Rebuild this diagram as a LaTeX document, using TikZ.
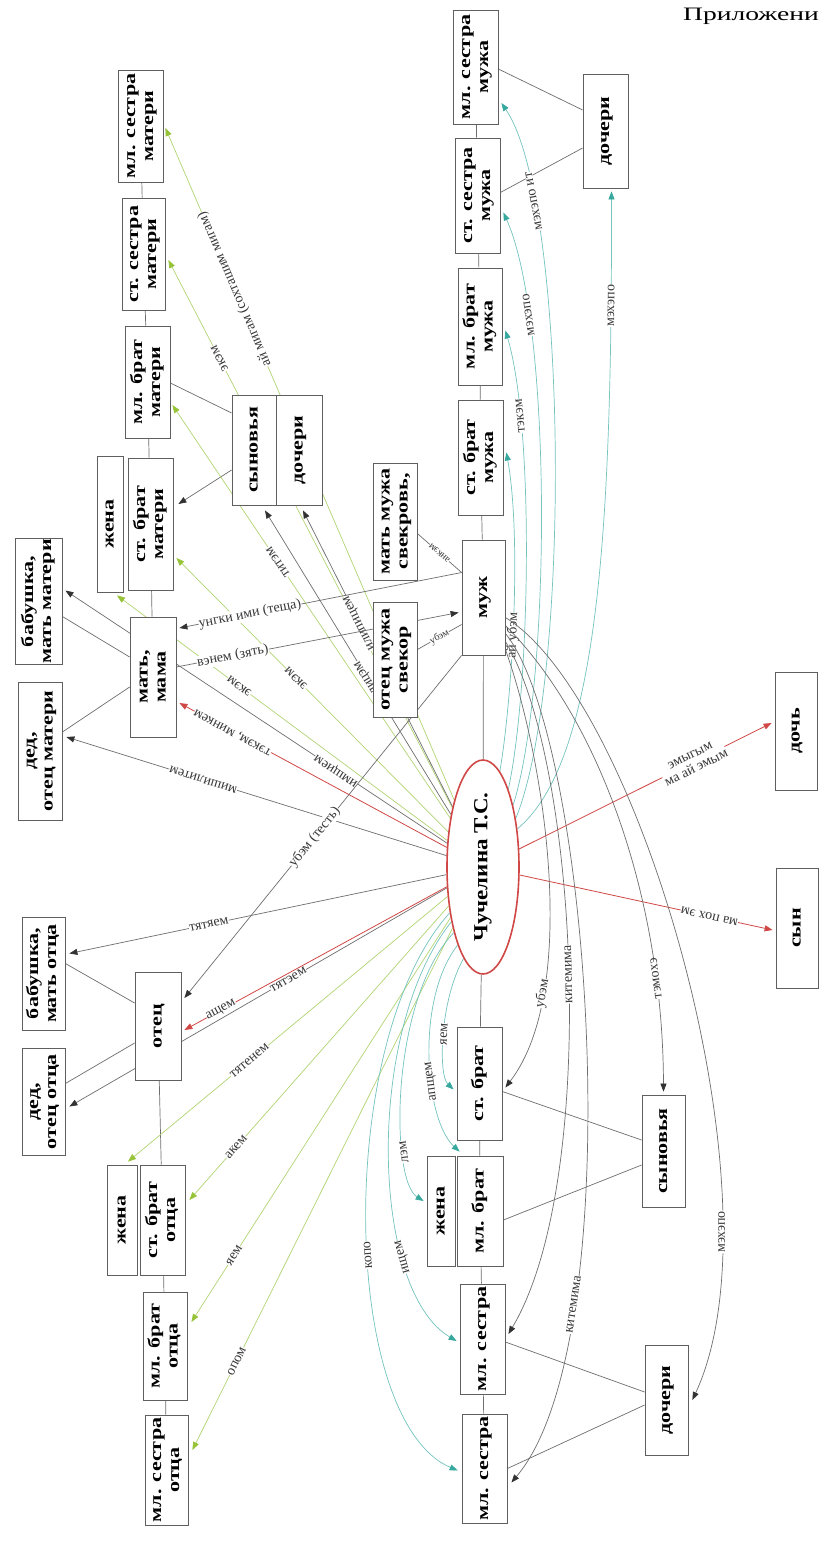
\documentclass[tikz,border=0pt]{standalone}
\usepackage{graphicx}
\usepackage{fontspec}
\setmainfont{Liberation Serif}
\usetikzlibrary{arrows.meta,shapes.geometric,backgrounds,calc}

\definecolor{kred}{RGB}{208,72,70}
\definecolor{kgreen}{RGB}{150,195,55}
\definecolor{kgreenl}{RGB}{178,212,115}
\definecolor{kcyan}{RGB}{55,168,158}
\definecolor{kcyanl}{RGB}{115,195,190}
\definecolor{kgrey}{RGB}{110,110,110}
\definecolor{kdark}{RGB}{50,50,50}
\definecolor{boxc}{RGB}{95,95,95}
\definecolor{labc}{RGB}{55,55,55}

\pgfdeclarelayer{bgfill}
\pgfdeclarelayer{edges}
\pgfsetlayers{bgfill,edges,main}

% rotated one- or two-line caption for a kinship box
\newcommand\rtext[1]{\rotatebox{90}{\scalebox{1.3}[1]{\begin{tabular}{@{}c@{}}#1\end{tabular}}}}
% box: name, centre x, centre y, width, height, caption
\newcommand\kbox[6]{\node[kinbox, minimum width=#4pt, minimum height=#5pt] (#1) at (#2,#3) {\rtext{#6}};}

\tikzset{
  kinbox/.style={draw=boxc, line width=0.8pt, fill=white, inner sep=0pt,
    font=\fontsize{17}{18}\selectfont\bfseries},
  tree/.style={draw=kgrey, line width=0.7pt},
  redarr/.style={draw=kred, line width=0.8pt, -{Triangle[length=8pt,width=6pt,color=kred]}},
  grnarr/.style={draw=kgreenl, line width=0.7pt, -{Triangle[length=8pt,width=6pt,color=kgreen]}},
  cyanarr/.style={draw=kcyanl, line width=0.7pt, -{Triangle[length=8pt,width=6pt,color=kcyan]}},
  blkarr/.style={draw=kgrey, line width=0.7pt, -{Triangle[length=8pt,width=6pt,color=kdark]}},
  lab/.style={font=\fontsize{14}{14}\selectfont, text=labc, fill=white, inner sep=0.3pt,
    sloped, allow upside down},
  labs/.style={lab, font=\fontsize{10}{10}\selectfont},
  upsd/.style={rotate=180},
}

\begin{document}
\begin{tikzpicture}[x=1pt,y=-1pt]
\useasboundingbox (0,0) rectangle (819,1567);
\begin{pgfonlayer}{bgfill}
  \fill[white] (0,0) rectangle (819,1567);
\end{pgfonlayer}

\node[anchor=north west, inner sep=0pt, font=\fontsize{19}{19}\selectfont] (app) at (683,8)
  {\scalebox{1.45}[1]{Приложение}};

% centre person
\node[ellipse, draw=kred, line width=1.6pt, fill=white, minimum width=72pt, minimum height=214pt, inner sep=0pt]
  (E) at (483,867) {\rotatebox{90}{\scalebox{1.15}[1]{\fontsize{20}{20}\selectfont\bfseries Чучелина Т.С.}}};

% mother's side
\kbox{msm}{140.5}{126}{45}{112}{мл. сестра\\матери}
\kbox{ssm}{143.5}{254}{43}{112}{ст. сестра\\матери}
\kbox{mbm}{147.5}{382}{45}{112}{мл. брат\\матери}
\kbox{sbm}{150.5}{524}{45}{132}{ст. брат\\матери}
\kbox{zhm}{110}{524}{26}{136}{жена}
\kbox{mat}{153}{677}{46}{120}{мать,\\мама}
\kbox{bmm}{38.5}{601.5}{47}{126}{бабушка,\\мать матери}
\kbox{dom}{40}{751}{44}{138}{дед,\\отец матери}
\kbox{sy}{254}{450}{44}{110}{сыновья}
\kbox{dmb}{299}{450}{46}{110}{дочери}

% husband's side
\kbox{svkw}{395}{521.5}{44}{117}{мать мужа\\свекровь,}
\kbox{svk}{395}{659.5}{44}{115}{отец мужа\\свекор}
\kbox{muzh}{483.5}{597.5}{43}{115}{муж}
\kbox{sbmu}{480.5}{457.5}{45}{115}{ст. брат\\мужа}
\kbox{mbmu}{480}{326.5}{44}{117}{мл. брат\\мужа}
\kbox{ssmu}{477.5}{195.5}{45}{115}{ст. сестра\\мужа}
\kbox{msmu}{475.5}{67}{45}{114}{мл. сестра\\мужа}
\kbox{dochm}{605.5}{131}{45}{114}{дочери}

% children
\kbox{doch}{796}{731}{42}{118}{дочь}
\kbox{syn}{797}{928}{42}{120}{сын}

% father's side
\kbox{bmo}{43.5}{973.5}{43}{113}{бабушка,\\мать отца}
\kbox{ot}{158}{1026}{46}{108}{отец}
\kbox{doo}{43.5}{1101.5}{43}{107}{дед,\\отец отца}
\kbox{zho}{122}{1220}{30}{110}{жена}
\kbox{sbo}{162.5}{1220}{45}{110}{ст. брат\\отца}
\kbox{mbo}{165}{1346}{44}{108}{мл. брат\\отца}
\kbox{mso}{166.5}{1470}{43}{110}{мл. сестра\\отца}

% own siblings
\kbox{sb}{479.5}{1083.5}{45}{113}{ст. брат}
\kbox{mb}{480}{1211}{46}{110}{мл. брат}
\kbox{zhb}{441}{1211}{28}{110}{жена}
\kbox{ms1}{482.5}{1339}{45}{110}{мл. сестра}
\kbox{ms2}{484.5}{1468.5}{45}{109}{мл. сестра}
\kbox{syns}{663.5}{1151}{43}{112}{сыновья}
\kbox{dochs}{666.5}{1400}{43}{110}{дочери}

\begin{pgfonlayer}{edges}
% family tree lines
\draw[tree] (msm) -- (ssm);
\draw[tree] (ssm) -- (mbm);
\draw[tree] (mbm) -- (sbm);
\draw[tree] (sbm) -- (mat);
\draw[tree] ($(mat.west)+(0,-20)$) -- ($(bmm.east)+(0,15)$);
\draw[tree] ($(mat.west)+(0,10)$) -- ($(dom.east)+(0,-19)$);
\draw[tree] ($(mbm.east)+(0,1)$) -- ($(sy.west)+(0,-37)$);
\draw[blkarr] ($(sy.west)+(0,20)$) -- ($(sbm.east)+(5,-20)$);
\draw[tree] ($(ot.west)+(0,-23)$) -- ($(bmo.east)+(0,-10)$);
\draw[tree] ($(ot.west)+(0,17)$) -- ($(doo.east)+(0,-18)$);
\draw[tree] (ot) -- (sbo);
\draw[tree] (sbo) -- (mbo);
\draw[tree] (mbo) -- (mso);
\draw[tree] (E) -- (sb);
\draw[tree] (sb) -- (mb);
\draw[tree] (mb) -- (ms1);
\draw[tree] (ms1) -- (ms2);
\draw[tree] ($(sb.east)+(0,8)$) -- ($(syns.west)+(0,-11)$);
\draw[tree] ($(mb.east)+(0,9)$) -- ($(syns.west)+(0,14)$);
\draw[tree] ($(ms1.east)+(0,3)$) -- ($(dochs.west)+(0,-8)$);
\draw[tree] (ms2.east) -- ($(dochs.west)+(0,5)$);
\draw[tree] (E) -- (muzh);
\draw[tree] (muzh) -- (sbmu);
\draw[tree] (sbmu) -- (mbmu);
\draw[tree] (mbmu) -- (ssmu);
\draw[tree] (ssmu) -- (msmu);
\draw[tree] ($(msmu.east)+(0,2)$) -- ($(dochm.west)+(0,-21)$);
\draw[tree] ($(ssmu.east)+(0,-3)$) -- ($(dochm.west)+(0,17)$);
\draw[tree] ($(svkw.east)+(0,12)$) -- ($(muzh.west)+(0,-25)$) node[labs,pos=0.5,upsd]{анкэм};
\draw[tree] ($(svk.east)+(0,-10)$) -- ($(muzh.west)+(0,27)$) node[labs,pos=0.5]{убэм};

% green: parents' siblings
\draw[grnarr] (E) -- ($(msm.east)+(2,2)$) node[lab,pos=0.76]{ай мигам (сохташим мигам)};
\draw[grnarr] (E) -- ($(ssm.east)+(3,6)$) node[lab,pos=0.82]{экэм};
\draw[grnarr] (E) -- ($(mbm.east)+(2,23)$) node[lab,pos=0.62]{титэм};
\draw[grnarr] (E) -- ($(sbm.east)+(3,34)$) node[lab,pos=0.56]{экэм};
\draw[grnarr] (E) -- ($(zhm.south)+(7,3)$) node[lab,pos=0.63]{экэм};
\draw[grnarr] (E) -- ($(zho.north)+(6,-3)$) node[lab,pos=0.62,upsd]{тятенем};
\draw[grnarr] (E) -- ($(sbo.east)+(4,-20)$) node[lab,pos=0.82,upsd]{акем};
\draw[grnarr] (E) -- ($(mbo.east)+(4,-24)$) node[lab,pos=0.835,upsd]{яем};
\draw[grnarr] (E) -- ($(mso.east)+(4,-20)$) node[lab,pos=0.83,upsd]{опом};

% dark: grandparents and cousins
\draw[blkarr] (E) -- ($(bmm.east)+(3,-11)$) node[lab,pos=0.29]{имщием};
\draw[blkarr] (E) -- ($(dom.east)+(4,-14)$) node[lab,pos=0.64]{мишилитем};
\draw[blkarr] (E) -- ($(bmo.east)+(4,-20)$) node[lab,pos=0.63,upsd]{тятяем};
\draw[blkarr] (E) -- ($(doo.east)+(4,5)$) node[lab,pos=0.42,upsd]{тятэем};
\draw[blkarr] (E) -- ($(sy.south)+(11,5)$) node[lab,pos=0.42]{инилицэм};
\draw[blkarr] (E) -- ($(dmb.south)+(4,5)$) node[lab,pos=0.62]{илипицем};

% red: parents and children
\draw[redarr] (E) -- ($(mat.east)+(3,26)$) node[lab,pos=0.8]{тэкэм, минкем};
\draw[redarr] (E) -- ($(ot.east)+(3,4)$) node[lab,pos=0.86,upsd]{ащем};
\draw[redarr] (E) -- ($(doch.west)+(-3,-8)$) node[lab,pos=0.69,align=center]{эмыгым\\ма ай эмым};
\draw[redarr] (E) -- ($(syn.west)+(-3,2)$) node[lab,pos=0.75,upsd]{ма пох эм};

% cyan: husband's siblings
\draw[cyanarr] (E.80) .. controls (512,700) and (522,540) .. ($(sbmu.east)+(3,-5)$) node[lab,pos=0.45]{ай убэм};
\draw[cyanarr] (E.72) .. controls (530,690) and (535,430) .. ($(mbmu.east)+(3,4)$) node[lab,pos=0.78]{тэкэм};
\draw[cyanarr] (E.64) .. controls (552,680) and (552,320) .. ($(ssmu.east)+(3,17)$) node[lab,pos=0.78]{мэхэпо};
\draw[cyanarr] (E.56) .. controls (572,680) and (568,200) .. ($(msmu.east)+(3,36)$) node[lab,pos=0.8]{мэхэпо ит};
\draw[cyanarr] (E.48) .. controls (600,760) and (612,520) .. ($(dochm.south)+(6,3)$) node[lab,pos=0.88]{мэхэпо};

% cyan: own siblings
\draw[cyanarr] (E.258) .. controls (440,1000) and (438,1075) .. ($(sb.west)+(-3,6)$) node[lab,pos=0.5,upsd]{яем};
\draw[cyanarr] (E.252) .. controls (415,1000) and (425,1120) .. ($(mb.north west)+(3,-4)$) node[lab,pos=0.6,upsd]{апщем};
\draw[cyanarr] (E.246) .. controls (390,1000) and (390,1180) .. ($(zhb.west)+(-3,-10)$) node[lab,pos=0.72,upsd]{лэм};
\draw[cyanarr] (E.240) .. controls (365,1030) and (370,1290) .. ($(ms1.west)+(-3,2)$) node[lab,pos=0.72,upsd]{ищем};
\draw[cyanarr] (E.234) .. controls (335,1040) and (340,1420) .. ($(ms2.west)+(-4,2)$) node[lab,pos=0.55,upsd]{копо};

% grey: husband's terms
\draw[blkarr] ($(muzh.west)+(0,-25)$) -- ($(mat.east)+(3,-49)$) node[lab,pos=0.75,upsd]{унгки ими (теща)};
\draw[blkarr] ($(mat.east)+(0,-10)$) -- ($(muzh.west)+(-3,15)$) node[lab,pos=0.2]{вэнем (зять)};
\draw[blkarr] (muzh.south west) -- ($(ot.east)+(3,-28)$) node[lab,pos=0.53,upsd]{убэм (тесть)};
\draw[blkarr] ($(muzh.east)+(0,52)$) .. controls (545,760) and (580,990) .. ($(sb.east)+(3,4)$) node[lab,pos=0.75,upsd]{убэм};
\draw[blkarr] ($(muzh.east)+(0,44)$) .. controls (578,760) and (600,1180) .. ($(ms1.east)+(3,-5)$) node[lab,pos=0.5,upsd]{китемима};
\draw[blkarr] ($(muzh.east)+(0,36)$) .. controls (592,740) and (632,1340) .. ($(ms2.east)+(4,14)$) node[lab,pos=0.75,upsd]{китемима};
\draw[blkarr] ($(muzh.east)+(0,28)$) .. controls (600,720) and (663,900) .. ($(syns.north)+(0,-3)$) node[lab,pos=0.8,upsd]{тэмохэ};
\draw[blkarr] ($(muzh.east)+(0,20)$) .. controls (640,700) and (785,1200) .. ($(dochs.east)+(4,0)$) node[lab,pos=0.78,upsd]{мэхэпо};
\end{pgfonlayer}
\end{tikzpicture}
\end{document}
